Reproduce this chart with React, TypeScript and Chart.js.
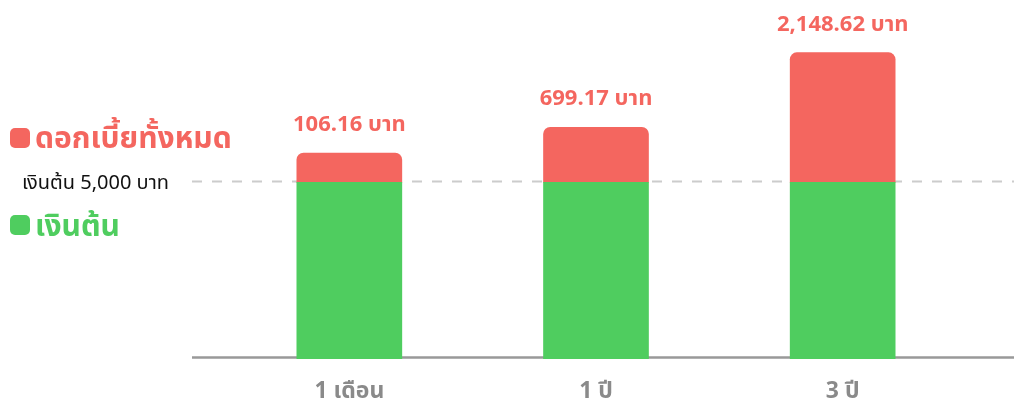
import React, { useEffect, useRef } from 'react';
import { Chart, registerables } from 'chart.js';

Chart.register(...registerables);

const categories = ['1 เดือน', '1 ปี', '3 ปี'];
const principal = [5000, 5000, 5000];
const interest = [106.16, 699.17, 2148.62];
// illustrative heights of the interest segments as drawn in the reference (not to scale)
const interestBarHeights = [830, 1560, 3670];
const principalLine = 5000;
const principalLabel = 'เงินต้น 5,000 บาท';
const legendInterest = 'ดอกเบี้ยทั้งหมด';
const legendPrincipal = 'เงินต้น';
const unit = 'บาท';

const RED = '#F4665F';
const GREEN = '#4FCD5F';
const FONT = '"Noto Sans Thai", "Noto Sans", "Open Sans", sans-serif';

const fmt = (v: number) =>
  v.toLocaleString('en-US', { minimumFractionDigits: 2, maximumFractionDigits: 2 });

const overlay = {
  id: 'overlay',
  beforeDatasetsDraw(chart: any) {
    const { ctx, chartArea, scales } = chart;
    const y = scales.y;
    const left = chartArea.left - 34;
    const right = chart.width;
    const yb = Math.round(y.getPixelForValue(principalLine)) - 0.5;
    ctx.save();
    ctx.strokeStyle = '#cccccc';
    ctx.lineWidth = 2;
    ctx.setLineDash([10, 10]);
    ctx.beginPath();
    ctx.moveTo(left, yb);
    ctx.lineTo(right, yb);
    ctx.stroke();
    ctx.setLineDash([]);
    ctx.strokeStyle = '#999999';
    ctx.lineWidth = 2.5;
    const y0 = y.getPixelForValue(0) - 1.5;
    ctx.beginPath();
    ctx.moveTo(left, y0);
    ctx.lineTo(right, y0);
    ctx.stroke();
    ctx.restore();
  },
  afterDatasetsDraw(chart: any) {
    const { ctx } = chart;
    const meta = chart.getDatasetMeta(1);
    ctx.save();
    ctx.font = `bold 22px ${FONT}`;
    ctx.fillStyle = RED;
    ctx.textAlign = 'center';
    ctx.textBaseline = 'alphabetic';
    meta.data.forEach((bar: any, i: number) => {
      ctx.fillText(`${fmt(interest[i])} ${unit}`, bar.x, bar.y - 22);
    });
    ctx.restore();
  },
};

export default function App() {
  const ref = useRef<HTMLCanvasElement | null>(null);
  useEffect(() => {
    if (!ref.current) return;
    const chart = new Chart(ref.current, {
      type: 'bar',
      data: {
        labels: categories,
        datasets: [
          {
            label: legendPrincipal,
            data: principal,
            backgroundColor: GREEN,
            borderWidth: 0,
            barThickness: 105,
          },
          {
            label: legendInterest,
            data: interestBarHeights,
            backgroundColor: RED,
            borderWidth: 0,
            borderSkipped: false,
            borderRadius: { topLeft: 7, topRight: 7, bottomLeft: 0, bottomRight: 0 },
            barThickness: 105,
          },
        ],
      },
      options: {
        animation: false,
        responsive: false,
        maintainAspectRatio: false,
        layout: { padding: { left: 226, right: 48, top: 41, bottom: 0 } },
        plugins: { legend: { display: false }, tooltip: { enabled: false } },
        scales: {
          x: {
            stacked: true,
            grid: { display: false },
            border: { display: false },
            ticks: {
              color: '#8a8a8a',
              font: { family: FONT, size: 23, weight: 'bold' },
              padding: 13,
            },
            afterFit: (scale: any) => {
              scale.height = 42;
            },
          },
          y: {
            stacked: true,
            display: false,
            min: 0,
            max: 9000,
          },
        },
      },
      plugins: [overlay],
    });
    return () => chart.destroy();
  }, []);

  const sq = (color: string, top: number) => (
    <div
      style={{
        position: 'absolute',
        left: 10,
        top,
        width: 20,
        height: 20,
        borderRadius: 5,
        background: color,
      }}
    />
  );

  return (
    <div style={{ position: 'fixed', left: 0, top: 0, width: 1014, height: 401, background: '#fff', fontFamily: FONT }}>
      <canvas ref={ref} width={1014} height={401} style={{ position: 'absolute', left: 0, top: 0 }} />
      {sq(RED, 128)}
      <div style={{ position: 'absolute', left: 35, top: 119, fontSize: 30, fontWeight: 700, color: RED, lineHeight: '40px', whiteSpace: 'nowrap' }}>
        {legendInterest}
      </div>
      <div style={{ position: 'absolute', left: 22, top: 169, fontSize: 20, color: '#111', lineHeight: '28px', whiteSpace: 'nowrap' }}>
        {principalLabel}
      </div>
      {sq(GREEN, 215)}
      <div style={{ position: 'absolute', left: 35, top: 207, fontSize: 30, fontWeight: 700, color: GREEN, lineHeight: '40px', whiteSpace: 'nowrap' }}>
        {legendPrincipal}
      </div>
    </div>
  );
}
